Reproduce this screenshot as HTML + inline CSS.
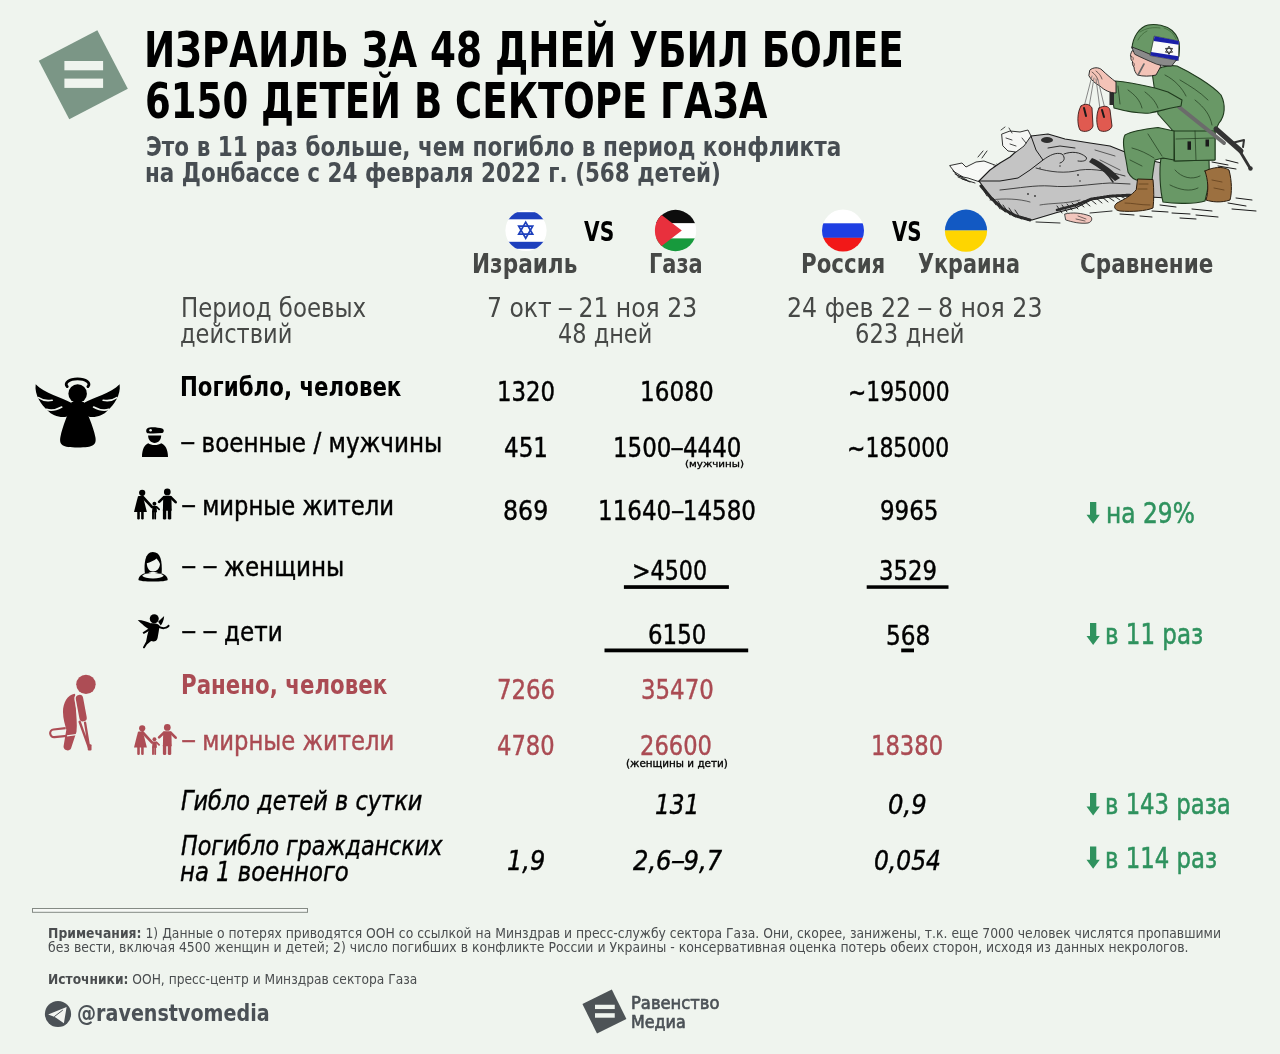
<!DOCTYPE html>
<html lang="ru"><head><meta charset="utf-8"><title>Израиль за 48 дней убил более 6150 детей в секторе Газа</title>
<style>
html,body{margin:0;padding:0;background:#eff4ee;}
body{width:1280px;height:1054px;position:relative;overflow:hidden;font-family:"DejaVu Sans",sans-serif;}
.t{position:absolute;white-space:nowrap;line-height:1;transform-origin:0 0;}
.t b{font-weight:700;}
.mk{display:inline-block;width:0;height:0;vertical-align:baseline;}
.g{position:absolute;}
.ds3{display:inline-block;transform:translate(-1px,-1.5px) scaleX(1.2);transform-origin:0 50%;}
.ds2{display:inline-block;transform:translate(-2px,-1.2px) scaleX(1.35);transform-origin:0 50%;}
.ds{display:inline-block;transform:translateY(-1.7px) scaleX(1.35);transform-origin:0 50%;margin-right:3px;}
</style></head><body>
<svg class="g" style="left:0;top:0" width="1280" height="1054" viewBox="0 0 1280 1054">
<defs>
<clipPath id="cIL"><circle cx="526" cy="230.5" r="20.6"/></clipPath>
<clipPath id="cPS"><circle cx="675.5" cy="230.5" r="20.7"/></clipPath>
<clipPath id="cRU"><circle cx="843" cy="230.5" r="21"/></clipPath>
<clipPath id="cUA"><circle cx="966" cy="230.7" r="21.1"/></clipPath>
</defs>
<!-- top logo -->
<rect x="-33" y="-33" width="66" height="66" fill="#7b9686" transform="translate(83.3 74.8) rotate(-27.5)"/>
<rect x="64.4" y="61" width="38.7" height="9.3" fill="#eff4ee"/>
<rect x="64.4" y="78.6" width="38.7" height="9.3" fill="#eff4ee"/>
<!-- flags -->
<g clip-path="url(#cIL)">
<rect x="500" y="205" width="52" height="52" fill="#ffffff"/>
<rect x="500" y="212.2" width="52" height="7.1" fill="#1e40bd"/>
<rect x="500" y="241.8" width="52" height="7" fill="#1e40bd"/>
</g>
<g fill="none" stroke="#1e40bd" stroke-width="1.7" stroke-linejoin="miter">
<polygon points="525.7,222.1 532.7,234.2 518.7,234.2"/>
<polygon points="525.7,238.3 532.7,226.2 518.7,226.2"/>
</g>
<g clip-path="url(#cPS)">
<rect x="650" y="205" width="52" height="18.4" fill="#0d0d0d"/>
<rect x="650" y="223.3" width="52" height="15.2" fill="#ffffff"/>
<rect x="650" y="238.4" width="52" height="18" fill="#179a3d"/>
<polygon points="654.5,209.5 681.8,230.5 654.5,251.5" fill="#e8303d"/>
</g>
<g clip-path="url(#cRU)">
<rect x="818" y="205" width="52" height="18.4" fill="#ffffff"/>
<rect x="818" y="223.3" width="52" height="14.6" fill="#1f3fe3"/>
<rect x="818" y="237.8" width="52" height="18" fill="#f21818"/>
</g>
<g clip-path="url(#cUA)">
<rect x="940" y="205" width="52" height="25.6" fill="#1259c3"/>
<rect x="940" y="230.5" width="52" height="26" fill="#fed500"/>
</g>
<!-- underline bars -->
<rect x="623.9" y="585.2" width="105" height="3.7" fill="#000"/>
<rect x="866.7" y="585.3" width="81.8" height="3.5" fill="#000"/>
<rect x="604.5" y="648.5" width="143.7" height="3.8" fill="#000"/>
<rect x="901.2" y="648.5" width="12.8" height="3.8" fill="#000"/>
<!-- green arrows -->
<g fill="#2f925e">
<path d="M1090,501.9H1096.3V514.7H1099.8L1093.15,523.8L1086.5,514.7H1090Z"/>
<path d="M1090,623.1H1096.3V636H1099.8L1093.15,645L1086.5,636H1090Z"/>
<path d="M1090,793H1096.3V806.6H1099.8L1093.15,815.6L1086.5,806.6H1090Z"/>
<path d="M1090,846.4H1096.3V859.7H1099.8L1093.15,868.7L1086.5,859.7H1090Z"/>
</g>
<!-- footer separator -->
<rect x="32.5" y="908.5" width="275" height="3.8" fill="#f6f8f5" stroke="#848a84" stroke-width="1"/>
<!-- footer logo -->
<rect x="-16.4" y="-16.4" width="32.8" height="32.8" fill="#4d5356" transform="translate(604.4 1011.5) rotate(-26.4)"/>
<rect x="595" y="1004.75" width="19.75" height="4.3" fill="#eff4ee"/>
<rect x="595" y="1013.2" width="19.75" height="4.5" fill="#eff4ee"/>
<!-- telegram -->
<circle cx="58" cy="1014" r="13.1" fill="#4b5156"/>
<path d="M48.1,1014.4L66.6,1007.1L63.9,1023.2L55.6,1017.4L53.5,1016.4Z" fill="#f2f4f1"/>
<path d="M62.8,1010.1L54.2,1016.7" stroke="#4b5156" stroke-width="1" fill="none"/>

<!-- angel -->
<g transform="translate(30 372) scale(0.07588)" fill="#000">
 <g id="awing">
  <path d="M548,408 C420,335 190,280 75,160 C55,300 150,430 230,505 C290,575 390,605 480,590 L560,520 Z"/>
  <path d="M112,338 Q190,392 292,372" fill="none" stroke="#eff4ee" stroke-width="22" stroke-linecap="round"/>
  <path d="M218,492 Q300,525 418,462" fill="none" stroke="#eff4ee" stroke-width="22" stroke-linecap="round"/>
 </g>
 <use href="#awing" transform="translate(1256 0) scale(-1 1)"/>
 <circle cx="628" cy="285" r="122" fill="#000" stroke="#eff4ee" stroke-width="30"/>
 <path d="M548,395 C505,560 430,700 400,860 C385,960 420,995 630,995 C840,995 878,960 862,860 C832,700 752,560 708,395 Z"/>
 <circle cx="628" cy="285" r="122"/>
 <path d="M490,192 A150,72 0 1 1 764,192" fill="none" stroke="#000" stroke-width="38" stroke-linecap="round"/>
</g>
<!-- soldier icon -->
<g fill="#000">
 <path d="M147.5,428.2 C150,426.6 158,427.3 162.2,428.6 C164.4,429.4 164.3,432.6 162.2,433 C157,433.6 150,433.6 147.6,433.2 C145.8,432.6 145.8,429.2 147.5,428.2 Z"/>
 <circle cx="150.6" cy="430.3" r="1.3" fill="#eff4ee"/>
 <path d="M148.1,435.6 L161.2,435.6 C161.2,440 158.4,442.9 154.65,442.9 C150.9,442.9 148.1,440 148.1,435.6 Z"/>
 <path d="M142,457 C142,449.5 144.5,444.6 148.3,443.2 C151,445.6 158.3,445.6 161.2,443.2 C165.2,444.6 168,449.5 168,457 Z"/>
</g>
<!-- family icons -->
<defs>
<g id="fam">
 <circle cx="312" cy="200" r="80"/>
 <path d="M205,290 C240,282 290,282 325,292 L360,400 L432,690 L103,690 L175,400 Z"/>
 <rect x="185" y="660" width="66" height="222" rx="30"/>
 <rect x="285" y="660" width="66" height="222" rx="30"/>
 <path d="M320,300 L560,560" stroke-width="70" stroke-linecap="round"/>
 <circle cx="625" cy="480" r="50"/>
 <path d="M575,540 L680,540 L690,700 L565,700 Z"/>
 <path d="M680,560 L745,625" stroke-width="45" stroke-linecap="round"/>
 <rect x="565" y="660" width="48" height="222" rx="22"/>
 <rect x="620" y="660" width="48" height="222" rx="22"/>
 <circle cx="955" cy="178" r="86"/>
 <path d="M850,285 C900,270 1010,270 1060,285 L1068,660 L842,660 Z"/>
 <path d="M870,310 L745,432 M1040,310 L1168,440" stroke-width="68" stroke-linecap="round"/>
 <rect x="842" y="600" width="86" height="285" rx="36"/>
 <rect x="968" y="600" width="88" height="285" rx="36"/>
</g>
</defs>
<use href="#fam" transform="translate(130 485) scale(0.0390625)" fill="#000" stroke="#000" stroke-width="0"/>
<use href="#fam" transform="translate(130 720.5) scale(0.0390625)" fill="#ad4d55" stroke="#ad4d55" stroke-width="0"/>
<!-- woman icon -->
<g transform="translate(133 548) scale(0.0361)">
 <path d="M330,705 C300,450 330,110 548,110 C770,110 810,360 795,695 Z" fill="#000"/>
 <path d="M382,425 C470,395 590,355 655,292 C695,345 735,395 748,445 C740,570 660,652 555,652 C448,652 392,565 382,425 Z" fill="#eff4ee"/>
 <path d="M150,880 C160,760 260,700 400,690 L710,690 C850,700 950,760 962,880 C962,948 150,948 150,880 Z" fill="#000"/>
 <path d="M252,772 C300,712 420,692 555,690 C690,692 810,712 852,772 C800,822 700,842 555,842 C410,842 300,822 252,772 Z" fill="#eff4ee"/>
 <path d="M430,690 C470,660 640,660 690,690 Z" fill="#eff4ee"/>
</g>
<!-- cherub icon -->
<g transform="translate(134 608) scale(0.04175)" fill="#000">
 <circle cx="485" cy="258" r="108"/>
 <path d="M90,290 C200,292 330,328 445,388 L380,525 C300,485 180,382 90,290 Z"/>
 <path d="M578,330 L722,190 C712,290 690,355 640,418 Z"/>
 <path d="M405,368 C500,352 588,372 612,425 C600,520 585,620 565,720 C550,805 470,818 410,792 L310,872 L252,962 C228,975 205,952 218,935 L290,800 C305,700 330,600 360,500 Z"/>
 <path d="M378,472 L205,585 L232,625 L388,532 Z"/>
 <path d="M592,418 C680,478 775,470 818,402 C848,390 862,420 842,452 C782,512 682,522 598,482 Z"/>
</g>
<!-- injured icon -->
<g transform="translate(40 665) scale(0.09009)" fill="#ad4d55">
 <circle cx="510" cy="215" r="108"/>
 <path d="M285,700 L150,716 A42,42 0 0 0 160,800 L300,786" stroke="#ad4d55" stroke-width="24" fill="none"/>
 <path d="M385,318 C305,330 255,420 255,520 C255,600 280,670 292,720 L262,900 C255,950 330,965 345,925 L405,740 C415,660 402,560 398,480 C394,400 405,340 385,318 Z"/>
 <path d="M300,786 L400,774" stroke="#eff4ee" stroke-width="14" fill="none"/>
 <path d="M438,372 L478,585" stroke="#eff4ee" stroke-width="115" stroke-linecap="round"/>
 <path d="M438,372 L478,585" stroke="#ad4d55" stroke-width="82" stroke-linecap="round"/>
 <path d="M440,630 L548,930 M500,640 L548,930" stroke="#ad4d55" stroke-width="26" fill="none" stroke-linecap="round"/>
 <rect x="530" y="880" width="42" height="70" rx="12"/>
</g>
<!-- illustration -->
<g id="illus" stroke-linejoin="round" stroke-linecap="round">
 <!-- left debris (white chunks) -->
 <g fill="#f7f8f6" stroke="#1d1d1d" stroke-width="0.9">
  <path d="M950,165.5 L962,163 L966,167 L976,162 L984,161 L992,164 L1000,167 L1003,176 L1001,181 L980,182 L968,178 L958,176 Z"/>
 </g>
 <g fill="none" stroke="#1d1d1d" stroke-width="0.9">
  <path d="M953,171 L963,177 M955,174 L967,180 M958,177 L970,182 M962,179 L975,183"/>
  <path d="M982,158 L987,151 M978,157 L983,151"/>
  <path d="M994,166 L1000,176 M997,164 L1004,175"/>
 </g>
 <!-- main slab -->
 <path d="M979,181 L990,170 L1000,163 L1010,157 L1020,148 L1031,136 L1048,134 L1065,139 L1090,143 L1110,146 L1125,152 L1140,158 L1166,164 L1168,198 L1130,196 L1110,197 L1091,200 L1076,207.8 L1057,212.5 L1032,220 L1013,215.6 L1000,206 L990,196 Z" fill="#c4c4c4" stroke="#1a1a1a" stroke-width="1.1"/>
 <path d="M1031,136 L1036,150 L1043,160 L1030,170 L1018,178 L1000,181 L979,181" fill="none" stroke="#1a1a1a" stroke-width="1"/>
 <path d="M1043,160 C1050,155 1056,152 1062,154 C1066,158 1064,162 1060,163 M1064,154 C1072,151 1080,152 1086,157 C1088,160 1084,162 1078,161 M1048,148 L1060,146 L1075,148" fill="none" stroke="#1a1a1a" stroke-width="0.9"/>
 <path d="M1036,168 C1050,172 1065,174 1080,170 C1095,168 1110,172 1125,176 M1000,190 C1020,188 1035,185 1050,186 C1070,188 1090,184 1110,183 L1130,184" fill="none" stroke="#1a1a1a" stroke-width="0.8"/>
 <path d="M990,200 C1005,198 1020,199 1030,202 M1040,205 C1050,203 1065,204 1080,200 M1095,150 L1115,156 M1100,160 L1120,170" fill="none" stroke="#2a2a2a" stroke-width="0.7"/>
 <path d="M1092,158 C1100,161 1110,168 1120,178 L1115,181 C1106,173 1098,167 1089,162 Z" fill="#2a2a2a"/>
 <path d="M1094,163 C1102,168 1108,174 1113,182" stroke="#2a2a2a" stroke-width="1.5" fill="none"/>
 <ellipse cx="1047" cy="140" rx="6" ry="3" fill="#2e2e2e"/>
 <g fill="#333"><circle cx="1028" cy="194" r="0.9"/><circle cx="1035" cy="196" r="0.9"/><circle cx="1078" cy="175" r="0.9"/><circle cx="1080" cy="181" r="0.8"/><circle cx="1060" cy="166" r="0.8"/><circle cx="1040" cy="168" r="0.8"/></g>
 <!-- white debris top-left over slab -->
 <path d="M1002,134 L1010,131 L1020,132 L1028,130 L1031,136 L1024,146 L1016,152 L1008,151 L1003,146 Z" fill="#f5f6f4" stroke="#1d1d1d" stroke-width="0.9"/>
 <path d="M1006,138 L1012,140 M1010,144 L1016,146 M1001,130 L1005,127 M1012,133 L1009,128 M1022,138 L1026,143" stroke="#1d1d1d" stroke-width="0.8" fill="none"/>
 <!-- hatching bottom edge -->
 <g stroke="#1a1a1a" stroke-width="0.9" fill="none">
  <path d="M981,186 L987,196 M984,189 L991,200 M988,193 L996,205 M993,198 L1000,209 M998,201 L1005,212 M1003,205 L1010,215 M1009,208 L1015,217 M1015,210 L1021,219"/>
  <path d="M1057,206 L1062,213 M1062,205 L1067,212 M1067,204 L1072,210 M1072,203 L1078,209 M1078,202 L1084,207 M1084,201 L1090,206 M1090,199 L1096,204 M1096,198 L1102,203 M1102,197 L1108,202 M1108,197 L1114,201 M1114,196 L1120,200 M1120,196 L1126,199"/>
  <path d="M1036,222 L1060,223 M1090,213 L1112,211"/>
 </g>
 <path d="M981,186 L992,199 L1003,209 L1016,216 L1030,220" stroke="#2a2a2a" stroke-width="3" fill="none" stroke-dasharray="1.2 0.8"/>
 <path d="M1057,210 L1076,205 L1091,199 L1110,196 L1130,195" stroke="#2a2a2a" stroke-width="2.6" fill="none" stroke-dasharray="1.2 1"/>
 <!-- hand under slab -->
 <path d="M1065,214 C1072,212 1082,213 1090,216 C1093,218 1092,222 1088,223 C1080,224 1072,222 1066,220 Z" fill="#f2c6bd" stroke="#1a1a1a" stroke-width="0.8"/>
 <path d="M1078,216 L1086,219 M1076,219 L1085,221" stroke="#1a1a1a" stroke-width="0.6" fill="none"/>
 <!-- ground light area and strokes -->
 <path d="M1200,186 C1205,178 1212,172 1220,170 L1215,200 L1195,200 Z" fill="#f7f8f6"/>
 <g stroke="#1a1a1a" stroke-width="1" fill="none">
  <path d="M1160,205 L1176,207 M1152,211 L1168,212 M1172,213 L1190,214 M1192,209 L1212,211 M1196,215 L1218,217 M1228,203 L1246,206 M1232,209 L1256,211 M1236,198 L1252,200 M1180,218 L1196,219 M1140,216 L1152,217 M1120,214 L1134,215"/>
  <path d="M1212,162 L1228,165 M1218,166 L1236,169 M1226,160 L1238,163"/>
 </g>
 <!-- back leg (kneeling) -->
 <path d="M1161,158 L1209,160 C1210,175 1208,190 1205,201 C1195,204 1175,204 1163,202 C1160,190 1159,170 1161,158 Z" fill="#699866" stroke="#1f3a1d" stroke-width="1.1"/>
 <path d="M1170,185 C1180,190 1190,192 1198,188 M1175,170 C1182,178 1192,180 1200,176" stroke="#1f3a1d" stroke-width="0.7" fill="none"/>
 <!-- back boot -->
 <path d="M1205,171 C1213,167 1223,166 1229,170 C1232,181 1232,193 1230,200 C1221,203 1212,202 1206,200 C1209,190 1208,180 1205,171 Z" fill="#9c7040" stroke="#2a1c0e" stroke-width="1"/>
 <path d="M1212,180 L1222,182 M1214,188 L1224,190" stroke="#5a3a18" stroke-width="0.7" fill="none"/>
 <!-- torso -->
 <path d="M1152,72 C1160,67 1170,65 1177,66 C1190,72 1212,85 1221,95 C1226,105 1225,116 1219,123 L1215,131 L1215,160 L1174,161 L1174,132 L1158,114 Z" fill="#699866" stroke="#1f3a1d" stroke-width="1.1"/>
 <path d="M1180,80 C1190,86 1200,92 1208,100 M1195,100 C1205,108 1210,115 1212,125 M1165,75 C1175,80 1182,88 1186,96" stroke="#1f3a1d" stroke-width="0.7" fill="none"/>
 <!-- pouch -->
 <path d="M1174,131 L1215,131 L1215,160 L1175,161 Z" fill="#699866" stroke="#1f3a1d" stroke-width="1"/>
 <path d="M1176,139 L1214,138 M1195,131 L1196,160" stroke="#1f3a1d" stroke-width="0.7" fill="none"/>
 <rect x="1187.5" y="141.4" width="3.5" height="8.4" fill="#1a1a1a"/>
 <rect x="1205.5" y="139.5" width="3.5" height="7" fill="#1a1a1a"/>
 <!-- front thigh + shin -->
 <path d="M1174,131 L1158,127.5 C1145,129 1132,131 1125,135 C1122,140 1124,150 1126,160 L1128,172 C1131,178 1136,180.5 1140,180.5 L1152,180.5 C1153,172 1154,165 1155,160 L1163,158 L1174,160 Z" fill="#699866" stroke="#1f3a1d" stroke-width="1.1"/>
 <path d="M1148,134 L1162,156 M1132,148 C1140,150 1148,154 1154,158 M1130,160 L1142,166" stroke="#1f3a1d" stroke-width="0.7" fill="none"/>
 <!-- front boot -->
 <path d="M1138,179 L1153,179.5 C1154,190 1154,200 1153,208 C1146,211 1132,212 1120,211 C1114,210 1113,206 1117,203 C1125,199 1132,195 1136,190 Z" fill="#9c7040" stroke="#2a1c0e" stroke-width="1"/>
 <path d="M1139,184 L1148,184 M1138,189 L1147,189 M1125,203 C1132,203 1140,205 1150,205" stroke="#5a3a18" stroke-width="0.7" fill="none"/>
 <!-- rifle + strap -->
 <path d="M1179,107 L1224,143" stroke="#6b6b6b" stroke-width="4" fill="none"/>
 <path d="M1216,129 L1241,151" stroke="#333" stroke-width="5" fill="none"/>
 <path d="M1238,148 L1250,168" stroke="#333" stroke-width="2.8" fill="none"/>
 <circle cx="1250.5" cy="168.5" r="2.2" fill="#333"/>
 <path d="M1232,143 L1244,140 L1243,147" stroke="#333" stroke-width="2" fill="none"/>
 <!-- arm -->
 <path d="M1115,81 C1128,82 1142,85 1155,88 L1168,92 L1182,100 L1181,106 C1170,108 1160,111 1150,113 C1138,114 1125,111 1114,108 L1112,95 Z" fill="#699866" stroke="#1f3a1d" stroke-width="1.1"/>
 <path d="M1128,90 C1135,95 1140,100 1142,108 M1145,92 C1150,96 1155,100 1158,108 M1118,86 L1120,104" stroke="#1f3a1d" stroke-width="0.7" fill="none"/>
 <rect x="1109.5" y="88" width="4.5" height="17" fill="#2b2b2b"/>
 <!-- hand -->
 <path d="M1090,70 C1093,67 1099,67 1102,70 C1106,74 1112,79 1116,82 L1116,93 C1110,93 1104,90 1100,86 C1096,84 1091,80 1089,76 Z" fill="#f3c3b7" stroke="#1a1a1a" stroke-width="0.9"/>
 <path d="M1092,72 C1095,74 1097,77 1098,80 M1096,71 C1099,73 1101,76 1102,79" stroke="#1a1a1a" stroke-width="0.6" fill="none"/>
 <!-- strings -->
 <path d="M1092,76 L1084,107 M1094,78 L1089,107 M1096,79 L1100,109 M1098,80 L1105,109" stroke="#7a7a7a" stroke-width="0.9" fill="none"/>
 <!-- red shoes -->
 <path d="M1081,106 C1085,103 1090,104 1092,108 L1093,126 C1092,131 1084,133 1080,130 C1077,125 1077,112 1081,106 Z" fill="#e05a50" stroke="#3a1a18" stroke-width="0.9"/>
 <path d="M1099,108 C1104,105 1109,106 1110,110 L1112,126 C1111,131 1103,133 1099,130 C1096,125 1096,114 1099,108 Z" fill="#e05a50" stroke="#3a1a18" stroke-width="0.9"/>
 <path d="M1084,108 L1086,116 M1102,110 L1104,117" stroke="#1a1a1a" stroke-width="2" fill="none"/>
 <!-- face -->
 <path d="M1132,51 C1130.5,54 1130,55.5 1131,57 C1130.5,59 1131.5,60.5 1132.5,61.5 C1132,64 1133,66 1134,67 C1134,70 1135.5,73 1137.5,75 C1143,76.5 1150,76.5 1156,75 L1161,66 L1150,57 Z" fill="#f3c3b7" stroke="#1a1a1a" stroke-width="0.9"/>
 <path d="M1138,75 L1144,64" stroke="#666" stroke-width="1.6" fill="none"/>
 <path d="M1131,56 C1133,57 1134,58 1133,60 M1132.5,62 C1134,63 1135,64 1134,66" stroke="#1a1a1a" stroke-width="0.6" fill="none"/>
 <!-- helmet -->
 <path d="M1132,48 C1133,36 1140,27 1148,25 C1156,23.5 1166,25.5 1172,30.5 C1177,35 1179.5,42 1179.5,48 L1179,56 L1176.5,60.5 L1150,54.5 Z" fill="#699866" stroke="#1f3a1d" stroke-width="1.1"/>
 <path d="M1140,32 C1146,28 1153,27 1160,28 M1164,28 C1170,30 1174,34 1176,39 M1138,40 C1140,36 1143,33 1147,31" stroke="#3f6a3a" stroke-width="0.8" fill="none"/>
 <path d="M1132,47 C1140,50 1146,52.5 1150.4,54.4 L1176.5,59.9 L1171.6,66 C1165,66 1160,65.2 1156.4,64.1 C1148,60.5 1140,57 1135,54.4 Z" fill="#8a8a8a" stroke="#1a1a1a" stroke-width="0.8"/>
 <polygon points="1154.6,36.2 1178.9,41.1 1178.3,60.5 1150.4,55.6" fill="#fafafa" stroke="#1a1a1a" stroke-width="0.5"/>
 <polygon points="1154.6,36.2 1178.9,41.1 1178.8,44.8 1153.6,41" fill="#1a1fa8"/>
 <polygon points="1151,52 1178.4,56.3 1178.3,60.5 1150.4,55.6" fill="#1a1fa8"/>
 <g fill="none" stroke="#333" stroke-width="1">
  <polygon points="1169.2,46.5 1172.5,52.2 1165.9,52.2"/>
  <polygon points="1169.2,54.1 1172.5,48.4 1165.9,48.4"/>
 </g>
</g>
</svg>
<div class="t" id="t1" style='left:143.81px;top:25.81px;font-size:49.66px;font-family:"DejaVu Sans",sans-serif;font-weight:700;font-style:normal;color:#000;transform:scaleX(0.7516)'><span class="mk"></span>ИЗРАИЛЬ ЗА 48 ДНЕЙ УБИЛ БОЛЕЕ</div>
<div class="t" id="t2" style='left:145.46px;top:77.00px;font-size:49.66px;font-family:"DejaVu Sans",sans-serif;font-weight:700;font-style:normal;color:#000;transform:scaleX(0.7465)'><span class="mk"></span>6150 ДЕТЕЙ В СЕКТОРЕ ГАЗА</div>
<div class="t" id="s1" style='left:146.11px;top:134.31px;font-size:26.89px;font-family:"DejaVu Sans",sans-serif;font-weight:700;font-style:normal;color:#474d52;transform:scaleX(0.8027)'><span class="mk"></span>Это в 11 раз больше, чем погибло в период конфликта</div>
<div class="t" id="s2" style='left:145.22px;top:160.21px;font-size:26.89px;font-family:"DejaVu Sans",sans-serif;font-weight:700;font-style:normal;color:#474d52;transform:scaleX(0.7984)'><span class="mk"></span>на Донбассе с 24 февраля 2022 г. (568 детей)</div>
<div class="t" id="vs1" style='left:584.37px;top:218.70px;font-size:26.47px;font-family:"DejaVu Sans",sans-serif;font-weight:700;font-style:normal;color:#000;transform:scaleX(0.7632)'><span class="mk"></span>VS</div>
<div class="t" id="vs2" style='left:891.55px;top:218.70px;font-size:26.47px;font-family:"DejaVu Sans",sans-serif;font-weight:700;font-style:normal;color:#000;transform:scaleX(0.7491)'><span class="mk"></span>VS</div>
<div class="t" id="h1" style='left:472.18px;top:252.00px;font-size:25.93px;font-family:"DejaVu Sans",sans-serif;font-weight:700;font-style:normal;color:#464846;transform:scaleX(0.8340)'><span class="mk"></span>Израиль</div>
<div class="t" id="h2" style='left:649.39px;top:252.00px;font-size:25.93px;font-family:"DejaVu Sans",sans-serif;font-weight:700;font-style:normal;color:#464846;transform:scaleX(0.8064)'><span class="mk"></span>Газа</div>
<div class="t" id="h3" style='left:801.35px;top:252.00px;font-size:25.93px;font-family:"DejaVu Sans",sans-serif;font-weight:700;font-style:normal;color:#464846;transform:scaleX(0.8238)'><span class="mk"></span>Россия</div>
<div class="t" id="h4" style='left:917.93px;top:252.00px;font-size:25.93px;font-family:"DejaVu Sans",sans-serif;font-weight:700;font-style:normal;color:#464846;transform:scaleX(0.8014)'><span class="mk"></span>Украина</div>
<div class="t" id="h5" style='left:1080.17px;top:252.00px;font-size:25.93px;font-family:"DejaVu Sans",sans-serif;font-weight:700;font-style:normal;color:#464846;transform:scaleX(0.8300)'><span class="mk"></span>Сравнение</div>
<div class="t" id="p1" style='left:180.68px;top:294.61px;font-size:26.47px;font-family:"DejaVu Sans",sans-serif;font-weight:400;font-style:normal;color:#464846;transform:scaleX(0.8649)'><span class="mk"></span>Период боевых</div>
<div class="t" id="p2" style='left:180.32px;top:321.31px;font-size:26.47px;font-family:"DejaVu Sans",sans-serif;font-weight:400;font-style:normal;color:#464846;transform:scaleX(0.8529)'><span class="mk"></span>действий</div>
<div class="t" id="d1" style='left:486.63px;top:295.00px;font-size:26.47px;font-family:"DejaVu Sans",sans-serif;font-weight:400;font-style:normal;color:#464846;transform:scaleX(0.8885)'><span class="mk"></span>7 окт <span class="ds2">–</span> 21 ноя 23</div>
<div class="t" id="d2" style='left:558.15px;top:321.00px;font-size:26.47px;font-family:"DejaVu Sans",sans-serif;font-weight:400;font-style:normal;color:#464846;transform:scaleX(0.8474)'><span class="mk"></span>48 дней</div>
<div class="t" id="d3" style='left:786.78px;top:295.00px;font-size:26.47px;font-family:"DejaVu Sans",sans-serif;font-weight:400;font-style:normal;color:#464846;transform:scaleX(0.8947)'><span class="mk"></span>24 фев 22 <span class="ds2">–</span> 8 ноя 23</div>
<div class="t" id="d4" style='left:854.85px;top:320.70px;font-size:26.47px;font-family:"DejaVu Sans",sans-serif;font-weight:400;font-style:normal;color:#464846;transform:scaleX(0.8559)'><span class="mk"></span>623 дней</div>
<div class="t" id="l1" style='left:180.36px;top:374.10px;font-size:26.06px;font-family:"DejaVu Sans",sans-serif;font-weight:700;font-style:normal;color:#000;transform:scaleX(0.8198)'><span class="mk"></span>Погибло, человек</div>
<div class="t" id="l2" style='left:180.11px;top:429.81px;font-size:26.06px;font-family:"DejaVu Sans",sans-serif;font-weight:400;font-style:normal;color:#000;transform:scaleX(0.8860);-webkit-text-stroke:0.45px #000'><span class="mk"></span><span class="ds">–</span> военные / мужчины</div>
<div class="t" id="l3" style='left:180.55px;top:493.00px;font-size:26.06px;font-family:"DejaVu Sans",sans-serif;font-weight:400;font-style:normal;color:#000;transform:scaleX(0.8708);-webkit-text-stroke:0.45px #000'><span class="mk"></span><span class="ds">–</span> мирные жители</div>
<div class="t" id="l4" style='left:180.69px;top:554.31px;font-size:26.06px;font-family:"DejaVu Sans",sans-serif;font-weight:400;font-style:normal;color:#000;transform:scaleX(0.8862);-webkit-text-stroke:0.45px #000'><span class="mk"></span><span class="ds">–</span> <span class="ds">–</span> женщины</div>
<div class="t" id="l5" style='left:180.71px;top:618.50px;font-size:26.06px;font-family:"DejaVu Sans",sans-serif;font-weight:400;font-style:normal;color:#000;transform:scaleX(0.8864);-webkit-text-stroke:0.45px #000'><span class="mk"></span><span class="ds">–</span> <span class="ds">–</span> дети</div>
<div class="t" id="l6" style='left:180.60px;top:672.00px;font-size:26.06px;font-family:"DejaVu Sans",sans-serif;font-weight:700;font-style:normal;color:#aa4b53;transform:scaleX(0.8197)'><span class="mk"></span>Ранено, человек</div>
<div class="t" id="l7" style='left:180.57px;top:727.91px;font-size:26.06px;font-family:"DejaVu Sans",sans-serif;font-weight:400;font-style:normal;color:#aa4b53;transform:scaleX(0.8719);-webkit-text-stroke:0.45px #aa4b53'><span class="mk"></span><span class="ds">–</span> мирные жители</div>
<div class="t" id="l8" style='left:181.21px;top:786.51px;font-size:27.16px;font-family:"DejaVu Sans",sans-serif;font-weight:400;font-style:italic;color:#000;transform:scaleX(0.8266);-webkit-text-stroke:0.45px #000'><span class="mk"></span>Гибло детей в сутки</div>
<div class="t" id="l9" style='left:181.21px;top:831.51px;font-size:27.16px;font-family:"DejaVu Sans",sans-serif;font-weight:400;font-style:italic;color:#000;transform:scaleX(0.8189);-webkit-text-stroke:0.45px #000'><span class="mk"></span>Погибло гражданских</div>
<div class="t" id="l10" style='left:180.30px;top:857.82px;font-size:27.16px;font-family:"DejaVu Sans",sans-serif;font-weight:400;font-style:italic;color:#000;transform:scaleX(0.8386);-webkit-text-stroke:0.45px #000'><span class="mk"></span>на 1 военного</div>
<div class="t" id="n11" style='left:496.86px;top:379.25px;font-size:26.89px;font-family:"DejaVu Sans",sans-serif;font-weight:400;font-style:normal;color:#000;transform:scaleX(0.8501);-webkit-text-stroke:0.45px #000'><span class="mk"></span>1320</div>
<div class="t" id="n12" style='left:640.43px;top:379.25px;font-size:26.89px;font-family:"DejaVu Sans",sans-serif;font-weight:400;font-style:normal;color:#000;transform:scaleX(0.8612);-webkit-text-stroke:0.45px #000'><span class="mk"></span>16080</div>
<div class="t" id="n13" style='left:848.29px;top:379.25px;font-size:26.89px;font-family:"DejaVu Sans",sans-serif;font-weight:400;font-style:normal;color:#000;transform:scaleX(0.8120);-webkit-text-stroke:0.45px #000'><span class="mk"></span>~195000</div>
<div class="t" id="n21" style='left:504.14px;top:434.60px;font-size:26.89px;font-family:"DejaVu Sans",sans-serif;font-weight:400;font-style:normal;color:#000;transform:scaleX(0.8565);-webkit-text-stroke:0.45px #000'><span class="mk"></span>451</div>
<div class="t" id="n22" style='left:613.31px;top:434.60px;font-size:26.89px;font-family:"DejaVu Sans",sans-serif;font-weight:400;font-style:normal;color:#000;transform:scaleX(0.8548);-webkit-text-stroke:0.45px #000'><span class="mk"></span>1500<span class="ds3">–</span>4440</div>
<div class="t" id="n23" style='left:847.23px;top:434.81px;font-size:26.89px;font-family:"DejaVu Sans",sans-serif;font-weight:400;font-style:normal;color:#000;transform:scaleX(0.8174);-webkit-text-stroke:0.45px #000'><span class="mk"></span>~185000</div>
<div class="t" id="n31" style='left:502.91px;top:497.60px;font-size:26.89px;font-family:"DejaVu Sans",sans-serif;font-weight:400;font-style:normal;color:#000;transform:scaleX(0.8810);-webkit-text-stroke:0.45px #000'><span class="mk"></span>869</div>
<div class="t" id="n32" style='left:598.30px;top:497.60px;font-size:26.89px;font-family:"DejaVu Sans",sans-serif;font-weight:400;font-style:normal;color:#000;transform:scaleX(0.8568);-webkit-text-stroke:0.45px #000'><span class="mk"></span>11640<span class="ds3">–</span>14580</div>
<div class="t" id="n33" style='left:879.75px;top:498.00px;font-size:26.89px;font-family:"DejaVu Sans",sans-serif;font-weight:400;font-style:normal;color:#000;transform:scaleX(0.8544);-webkit-text-stroke:0.45px #000'><span class="mk"></span>9965</div>
<div class="t" id="n42" style='left:632.35px;top:557.60px;font-size:26.89px;font-family:"DejaVu Sans",sans-serif;font-weight:400;font-style:normal;color:#000;transform:scaleX(0.8256);-webkit-text-stroke:0.45px #000'><span class="mk"></span>&gt;4500</div>
<div class="t" id="n43" style='left:878.77px;top:557.71px;font-size:26.89px;font-family:"DejaVu Sans",sans-serif;font-weight:400;font-style:normal;color:#000;transform:scaleX(0.8483);-webkit-text-stroke:0.45px #000'><span class="mk"></span>3529</div>
<div class="t" id="n52" style='left:648.44px;top:622.00px;font-size:26.89px;font-family:"DejaVu Sans",sans-serif;font-weight:400;font-style:normal;color:#000;transform:scaleX(0.8520);-webkit-text-stroke:0.45px #000'><span class="mk"></span>6150</div>
<div class="t" id="n53" style='left:886.08px;top:622.50px;font-size:26.89px;font-family:"DejaVu Sans",sans-serif;font-weight:400;font-style:normal;color:#000;transform:scaleX(0.8646);-webkit-text-stroke:0.45px #000'><span class="mk"></span>568</div>
<div class="t" id="n61" style='left:496.68px;top:676.50px;font-size:26.89px;font-family:"DejaVu Sans",sans-serif;font-weight:400;font-style:normal;color:#aa4b53;transform:scaleX(0.8503);-webkit-text-stroke:0.45px #aa4b53'><span class="mk"></span>7266</div>
<div class="t" id="n62" style='left:641.40px;top:676.50px;font-size:26.89px;font-family:"DejaVu Sans",sans-serif;font-weight:400;font-style:normal;color:#aa4b53;transform:scaleX(0.8509);-webkit-text-stroke:0.45px #aa4b53'><span class="mk"></span>35470</div>
<div class="t" id="n71" style='left:497.01px;top:732.50px;font-size:26.89px;font-family:"DejaVu Sans",sans-serif;font-weight:400;font-style:normal;color:#aa4b53;transform:scaleX(0.8414);-webkit-text-stroke:0.45px #aa4b53'><span class="mk"></span>4780</div>
<div class="t" id="n72" style='left:640.35px;top:732.50px;font-size:26.89px;font-family:"DejaVu Sans",sans-serif;font-weight:400;font-style:normal;color:#aa4b53;transform:scaleX(0.8410);-webkit-text-stroke:0.45px #aa4b53'><span class="mk"></span>26600</div>
<div class="t" id="n73" style='left:870.91px;top:732.71px;font-size:26.89px;font-family:"DejaVu Sans",sans-serif;font-weight:400;font-style:normal;color:#aa4b53;transform:scaleX(0.8436);-webkit-text-stroke:0.45px #aa4b53'><span class="mk"></span>18380</div>
<div class="t" id="n82" style='left:654.96px;top:791.60px;font-size:26.89px;font-family:"DejaVu Sans",sans-serif;font-weight:400;font-style:italic;color:#000;transform:scaleX(0.8658);-webkit-text-stroke:0.45px #000'><span class="mk"></span>131</div>
<div class="t" id="n83" style='left:888.08px;top:791.91px;font-size:26.89px;font-family:"DejaVu Sans",sans-serif;font-weight:400;font-style:italic;color:#000;transform:scaleX(0.9030);-webkit-text-stroke:0.45px #000'><span class="mk"></span>0,9</div>
<div class="t" id="n91" style='left:506.69px;top:848.41px;font-size:26.89px;font-family:"DejaVu Sans",sans-serif;font-weight:400;font-style:italic;color:#000;transform:scaleX(0.8935);-webkit-text-stroke:0.45px #000'><span class="mk"></span>1,9</div>
<div class="t" id="n92" style='left:632.84px;top:848.41px;font-size:26.89px;font-family:"DejaVu Sans",sans-serif;font-weight:400;font-style:italic;color:#000;transform:scaleX(0.9006);-webkit-text-stroke:0.45px #000'><span class="mk"></span>2,6<span class="ds3">–</span>9,7</div>
<div class="t" id="n93" style='left:874.13px;top:848.31px;font-size:26.89px;font-family:"DejaVu Sans",sans-serif;font-weight:400;font-style:italic;color:#000;transform:scaleX(0.8699);-webkit-text-stroke:0.45px #000'><span class="mk"></span>0,054</div>
<div class="t" id="m1" style='left:685.19px;top:458.61px;font-size:9.47px;font-family:"DejaVu Sans",sans-serif;font-weight:400;font-style:normal;color:#000;transform:scaleX(1.0893);-webkit-text-stroke:0.35px #000'><span class="mk"></span>(мужчины)</div>
<div class="t" id="m2" style='left:626.02px;top:758.40px;font-size:10.43px;font-family:"DejaVu Sans",sans-serif;font-weight:400;font-style:normal;color:#000;transform:scaleX(0.9957);-webkit-text-stroke:0.35px #000'><span class="mk"></span>(женщины и дети)</div>
<div class="t" id="g1" style='left:1106.32px;top:500.10px;font-size:27.71px;font-family:"DejaVu Sans",sans-serif;font-weight:400;font-style:normal;color:#2f925e;transform:scaleX(0.8418);-webkit-text-stroke:0.55px #2f925e'><span class="mk"></span>на 29%</div>
<div class="t" id="g2" style='left:1104.84px;top:620.76px;font-size:27.71px;font-family:"DejaVu Sans",sans-serif;font-weight:400;font-style:normal;color:#2f925e;transform:scaleX(0.8291);-webkit-text-stroke:0.55px #2f925e'><span class="mk"></span>в 11 раз</div>
<div class="t" id="g3" style='left:1104.94px;top:791.30px;font-size:27.71px;font-family:"DejaVu Sans",sans-serif;font-weight:400;font-style:normal;color:#2f925e;transform:scaleX(0.8209);-webkit-text-stroke:0.55px #2f925e'><span class="mk"></span>в 143 раза</div>
<div class="t" id="g4" style='left:1104.94px;top:844.72px;font-size:27.71px;font-family:"DejaVu Sans",sans-serif;font-weight:400;font-style:normal;color:#2f925e;transform:scaleX(0.8230);-webkit-text-stroke:0.55px #2f925e'><span class="mk"></span>в 114 раз</div>
<div class="t" id="f1" style='left:47.61px;top:926.50px;font-size:13.72px;font-family:"DejaVu Sans",sans-serif;font-weight:400;font-style:normal;color:#4a4d4f;transform:scaleX(0.9037)'><span class="mk"></span><b>Примечания:</b> 1) Данные о потерях приводятся ООН со ссылкой на Минздрав и пресс-службу сектора Газа. Они, скорее, занижены, т.к. еще 7000 человек числятся пропавшими</div>
<div class="t" id="f2" style='left:47.61px;top:940.81px;font-size:13.72px;font-family:"DejaVu Sans",sans-serif;font-weight:400;font-style:normal;color:#4a4d4f;transform:scaleX(0.9085)'><span class="mk"></span>без вести, включая 4500 женщин и детей; 2) число погибших в конфликте России и Украины - консервативная оценка потерь обеих сторон, исходя из данных некрологов.</div>
<div class="t" id="f3" style='left:47.60px;top:972.75px;font-size:13.72px;font-family:"DejaVu Sans",sans-serif;font-weight:400;font-style:normal;color:#4a4d4f;transform:scaleX(0.8943)'><span class="mk"></span><b>Источники:</b> ООН, пресс-центр и Минздрав сектора Газа</div>
<div class="t" id="tg" style='left:76.56px;top:1001.71px;font-size:23.05px;font-family:"DejaVu Sans",sans-serif;font-weight:700;font-style:normal;color:#4b5156;transform:scaleX(0.8295)'><span class="mk"></span>@ravenstvomedia</div>
<div class="t" id="r1" style='left:630.98px;top:993.70px;font-size:18.38px;font-family:"DejaVu Sans",sans-serif;font-weight:400;font-style:normal;color:#4b5156;transform:scaleX(0.8915);-webkit-text-stroke:0.7px #4b5156'><span class="mk"></span>Равенство</div>
<div class="t" id="r2" style='left:630.88px;top:1012.61px;font-size:18.38px;font-family:"DejaVu Sans",sans-serif;font-weight:400;font-style:normal;color:#4b5156;transform:scaleX(0.8687);-webkit-text-stroke:0.7px #4b5156'><span class="mk"></span>Медиа</div>
</body></html>
